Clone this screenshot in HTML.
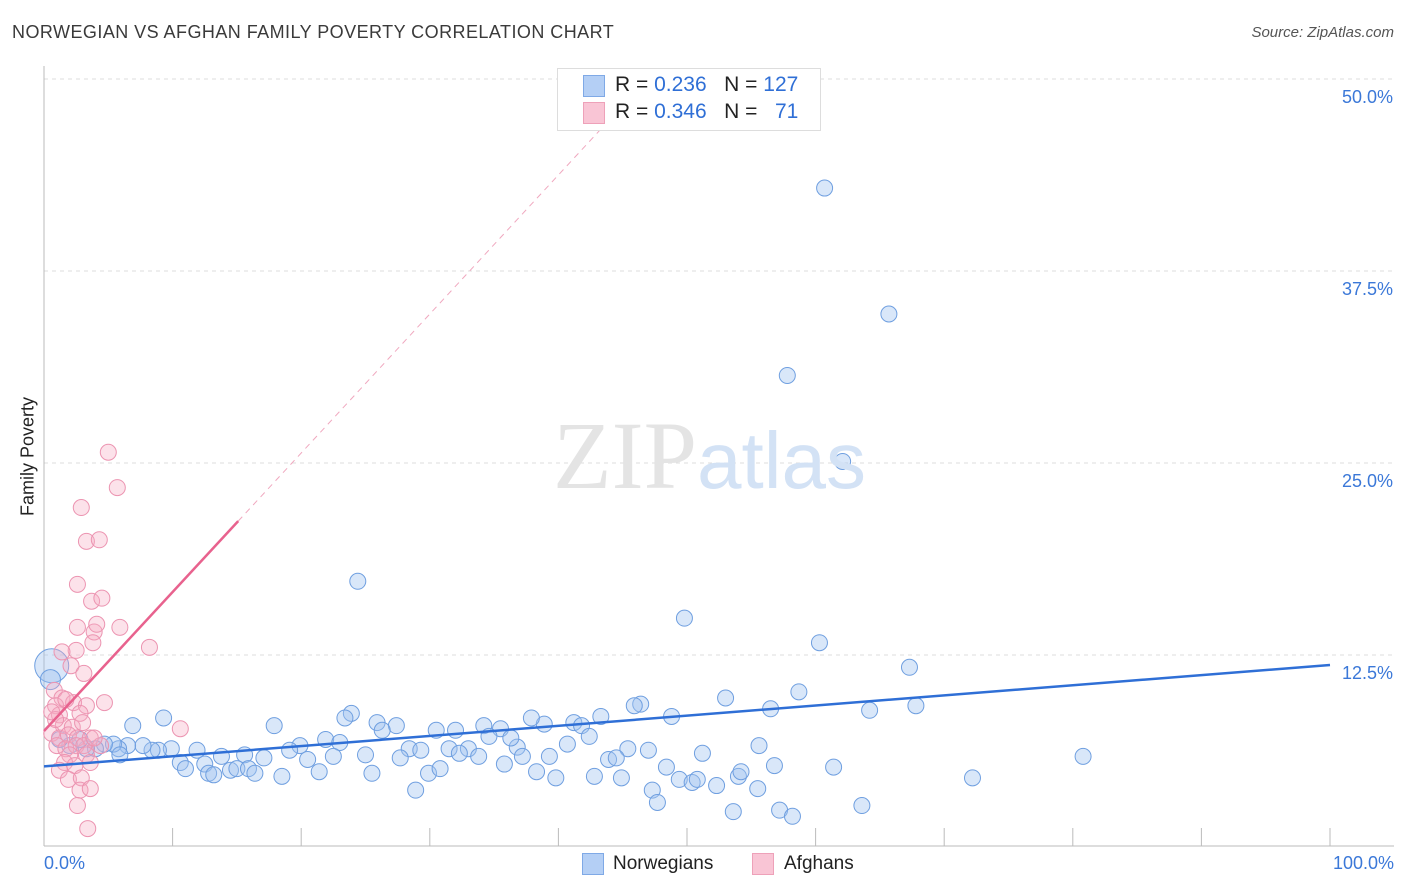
<!DOCTYPE html>
<html><head><meta charset="utf-8">
<style>
body{margin:0;background:#fff;font-family:"Liberation Sans",sans-serif;}
#wrap{position:relative;width:1406px;height:892px;overflow:hidden;}
.t{position:absolute;white-space:nowrap;}
</style></head>
<body>
<div id="wrap">
<div class="t" style="left:12px;top:22px;font-size:18px;color:#3a3a3a;letter-spacing:0.45px;">NORWEGIAN VS AFGHAN FAMILY POVERTY CORRELATION CHART</div>
<div class="t" style="right:12px;top:24px;font-size:15px;color:#555;font-style:italic;">Source: ZipAtlas.com</div>
<svg id="svg" width="1406" height="892" style="position:absolute;left:0;top:0"></svg>
<div class="t" style="left:557px;top:68px;width:262px;height:61px;border:1px solid #ddd;background:#fff;"></div>
<div class="t" style="left:583px;top:75px;width:20px;height:20px;background:#b4cff5;border:1px solid #7fa9e6;"></div>
<div class="t" style="left:583px;top:102px;width:20px;height:20px;background:#f9c5d5;border:1px solid #eea1b9;"></div>
<div class="t" style="left:615px;top:73px;font-size:21px;color:#222;">R = <span style="color:#2f6fd6">0.236</span>&nbsp;&nbsp;&nbsp;N = <span style="color:#2f6fd6">127</span></div>
<div class="t" style="left:615px;top:100px;font-size:21px;color:#222;">R = <span style="color:#2f6fd6">0.346</span>&nbsp;&nbsp;&nbsp;N = &nbsp;&nbsp;<span style="color:#2f6fd6">71</span></div>
<div class="t" style="left:-32px;top:446px;font-size:18px;color:#222;transform:rotate(-90deg);width:120px;text-align:center;">Family Poverty</div>
<div class="t" style="left:44px;top:853px;font-size:18px;color:#3b78d8;">0.0%</div>
<div class="t" style="right:12px;top:853px;font-size:18px;color:#3b78d8;">100.0%</div>
<div class="t" style="left:582px;top:853px;width:20px;height:20px;background:#b4cff5;border:1px solid #7fa9e6;"></div>
<div class="t" style="left:613px;top:853px;font-size:19px;color:#222;">Norwegians</div>
<div class="t" style="left:752px;top:853px;width:20px;height:20px;background:#f9c5d5;border:1px solid #eea1b9;"></div>
<div class="t" style="left:784px;top:853px;font-size:19px;color:#222;">Afghans</div>
<div class="t" style="left:553px;top:400px;font-size:96px;color:#e4e4e4;font-family:'Liberation Serif',serif;">ZIP<span style="color:#d3e2f5;font-family:'Liberation Sans',sans-serif;font-size:80px;">atlas</span></div>
</div>
<script>
const yTicks=[12.5,25,37.5,50];
const yTickLabels=["12.5%","25.0%","37.5%","50.0%"];
const blueX=[60.7,65.7,57.8,62.1,24.4,49.8,60.3,67.3,80.8,72.2,58.7,53.0,56.5,64.2,67.8,46.4,45.9,48.8,43.3,41.2,41.8,38.9,37.9,35.5,34.2,32.0,30.5,27.4,25.9,23.9,23.4,26.3,17.9,9.3,6.9,21.9,23.0,19.9,28.4,29.3,31.5,33.0,34.6,36.8,36.3,42.4,40.7,45.4,47.0,55.6,51.2,39.3,37.2,33.8,32.3,25.0,22.5,20.5,19.1,17.1,15.6,13.8,11.9,9.9,8.9,8.4,7.7,6.5,5.8,5.4,4.7,4.0,3.3,5.9,10.6,11.0,12.5,12.8,14.5,15.0,15.9,16.4,13.2,18.5,21.4,25.5,27.7,29.9,30.8,28.9,35.8,38.3,39.8,42.8,43.9,44.5,44.9,48.4,47.3,47.7,49.4,50.4,50.8,52.3,54.0,54.2,55.5,56.8,53.6,57.2,58.2,61.4,63.6,0.6,0.5,2.0,1.2,2.8];
const blueY=[42.9,34.7,30.7,25.1,17.3,14.9,13.3,11.7,5.9,4.5,10.1,9.7,9.0,8.9,9.2,9.3,9.2,8.5,8.5,8.1,7.9,8.0,8.4,7.7,7.9,7.6,7.6,7.9,8.1,8.7,8.4,7.6,7.9,8.4,7.9,7.0,6.8,6.6,6.4,6.3,6.4,6.4,7.2,6.5,7.1,7.2,6.7,6.4,6.3,6.6,6.1,5.9,5.9,5.9,6.1,6.0,5.9,5.7,6.3,5.8,6.0,5.9,6.3,6.4,6.3,6.3,6.6,6.6,6.4,6.7,6.7,6.4,6.4,6.0,5.5,5.1,5.4,4.8,5.0,5.1,5.1,4.8,4.7,4.6,4.9,4.8,5.8,4.8,5.1,3.7,5.4,4.9,4.5,4.6,5.7,5.8,4.5,5.2,3.7,2.9,4.4,4.2,4.4,4.0,4.6,4.9,3.8,5.3,2.3,2.4,2.0,5.2,2.7,11.8,10.9,6.6,7.0,7.0];
const blueR=[8,8,8,8,8,8,8,8,8,8,8,8,8,8,8,8,8,8,8,8,8,8,8,8,8,8,8,8,8,8,8,8,8,8,8,8,8,8,8,8,8,8,8,8,8,8,8,8,8,8,8,8,8,8,8,8,8,8,8,8,8,8,8,8,8,8,8,8,8,8,8,8,8,8,8,8,8,8,8,8,8,8,8,8,8,8,8,8,8,8,8,8,8,8,8,8,8,8,8,8,8,8,8,8,8,8,8,8,8,8,8,8,8,17,10,8,8,8];
const pinkX=[5.0,5.7,2.9,3.3,4.3,2.6,3.7,4.5,2.6,3.9,4.1,5.9,3.8,2.5,8.2,1.4,2.1,3.1,0.8,1.4,0.9,4.7,10.6,2.3,3.3,1.2,2.8,1.5,2.2,3.0,0.6,1.2,1.9,2.6,3.6,1.0,1.7,2.5,3.1,4.4,3.9,2.0,3.3,3.6,1.6,1.2,2.4,1.9,2.9,2.8,3.6,2.6,3.4,0.9,0.6,1.7];
const pinkY=[25.7,23.4,22.1,19.9,20.0,17.1,16.0,16.2,14.3,14.0,14.5,14.3,13.3,12.8,13.0,12.7,11.8,11.3,10.2,9.7,9.2,9.4,7.7,9.4,9.2,8.6,8.7,7.9,7.8,8.1,7.4,7.1,7.3,7.1,7.1,6.6,6.4,6.6,6.6,6.6,7.1,6.0,6.0,5.5,5.5,5.0,5.3,4.4,4.5,3.7,3.8,2.7,1.2,8.3,8.8,9.6];
const blueFit=[5.25,11.85];
const pinkFit=[7.55,0.905];
const NS="http://www.w3.org/2000/svg";
const svg=document.getElementById('svg');
const X0=44,X1=1330,Y0=847,PY=15.36;
const xs=v=>X0+(X1-X0)*v/100;
const ys=v=>Y0-v*PY;
function mk(tag,attrs){const e=document.createElementNS(NS,tag);for(const k in attrs)e.setAttribute(k,attrs[k]);svg.appendChild(e);return e;}
yTicks.forEach((t,i)=>{
  const g=mk('line',{x1:44,x2:1394,y1:ys(t),y2:ys(t),stroke:'#ddd','stroke-dasharray':'4,4'});
  
  
  const tx=mk('text',{x:1393,y:ys(t)+24,'text-anchor':'end','font-size':18,fill:'#3b78d8','font-family':'Liberation Sans'});
  tx.textContent=yTickLabels[i];
  
  
});
const ax=mk('line',{x1:44,x2:44,y1:66,y2:846,stroke:'#bbb'});


const bx=mk('line',{x1:44,x2:1394,y1:846,y2:846,stroke:'#bbb'});


for(let i=1;i<=10;i++){
  const tk=mk('line',{x1:xs(i*10),x2:xs(i*10),y1:828,y2:846,stroke:'#bbb'});
  
  
}
const pd=mk('line',{x1:xs(15.1),y1:ys(pinkFit[0]+pinkFit[1]*15.1),x2:xs(43.5),y2:ys(pinkFit[0]+pinkFit[1]*43.5),stroke:'#f0a8bf','stroke-dasharray':'6,5','stroke-width':1});


blueX.forEach((x,i)=>{
  const c=mk('circle',{cx:xs(x),cy:ys(blueY[i]),r:blueR[i],fill:'rgba(160,196,240,0.4)',stroke:'#6f9fe0','stroke-width':1});
  
  
});
pinkX.forEach((x,i)=>{
  const c=mk('circle',{cx:xs(x),cy:ys(pinkY[i]),r:8,fill:'rgba(246,172,196,0.35)',stroke:'#ec94b1','stroke-width':1});
  
  
});
const bl=mk('line',{x1:xs(0),y1:ys(blueFit[0]),x2:xs(100),y2:ys(blueFit[1]),stroke:'#2f6fd6','stroke-width':2.5});


const pl=mk('line',{x1:xs(0),y1:ys(pinkFit[0]),x2:xs(15.1),y2:ys(pinkFit[0]+pinkFit[1]*15.1),stroke:'#e8628e','stroke-width':2.5});


</script>
</body></html>
